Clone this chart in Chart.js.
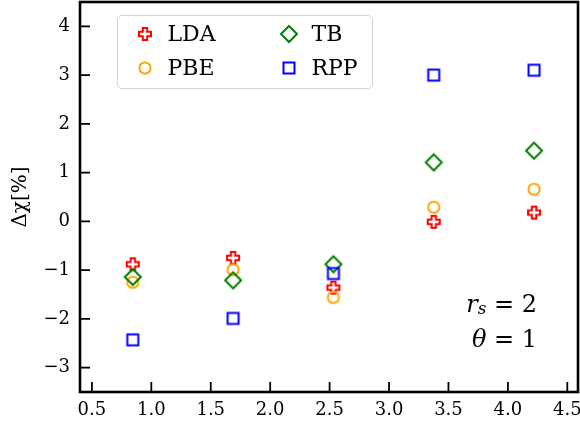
<!DOCTYPE html>
<html>
<head>
<meta charset="utf-8">
<script src="https://cdn.jsdelivr.net/npm/chart.js@4.4.1/dist/chart.umd.min.js"></script>
<style>
  html, body { margin: 0; padding: 0; background: #ffffff; }
  .scatter-chart { position: relative; width: 580px; height: 426px; }
  .scatter-chart canvas.plot { position: absolute; left: 0; top: 0; }
  .scatter-chart__legend {
    position: absolute; left: 117px; top: 15px; width: 256px; height: 74px;
    box-sizing: border-box; border: 1.5px solid #d4d4d4; border-radius: 5px;
    background: rgba(255, 255, 255, 0.8);
    display: grid; grid-template-columns: 144px auto; grid-template-rows: 34px 34px;
    grid-auto-flow: column; padding: 0.5px 0 0 14.5px;
    font-family: 'DejaVu Serif', serif; font-size: 22px; color: #000;
  }
  .scatter-chart__legend-item { display: flex; align-items: center; gap: 11px; line-height: 1; }
  .scatter-chart__note {
    position: absolute; right: 43px; font-family: 'DejaVu Serif', serif;
    font-size: 24px; line-height: 35px; color: #000; white-space: nowrap;
  }
  .scatter-chart__note i { font-style: italic; }
  .scatter-chart__note sub { font-size: 17px; font-style: italic; position: relative; top: 2px; vertical-align: baseline; }
</style>
</head>
<body>
<div class="scatter-chart">
  <canvas class="plot" width="580" height="426"></canvas>
  <div class="scatter-chart__legend"></div>
  <div class="scatter-chart__note" style="top: 287px"><i>r</i><sub>s</sub> = 2</div>
  <div class="scatter-chart__note" style="top: 322px"><i>θ</i> = 1</div>
</div>
<script>
const xValues = [0.844, 1.688, 2.532, 3.376, 4.22]
const ldaValues = [-0.88, -0.75, -1.36, -0.01, 0.18]
const pbeValues = [-1.25, -0.99, -1.56, 0.29, 0.66]
const tbValues = [-1.14, -1.21, -0.88, 1.21, 1.45]
const rppValues = [-2.43, -1.99, -1.07, 3.0, 3.1]
const xTicks = [0.5, 1.0, 1.5, 2.0, 2.5, 3.0, 3.5, 4.0, 4.5]
const yTicks = [-3, -2, -1, 0, 1, 2, 3, 4]

const series = [
  { label: 'LDA', data: ldaValues, marker: 'plus', color: '#ff0000' },
  { label: 'PBE', data: pbeValues, marker: 'circle', color: '#ffa500' },
  { label: 'TB', data: tbValues, marker: 'diamond', color: '#008000' },
  { label: 'RPP', data: rppValues, marker: 'square', color: '#0000ff' }
]

const serifFont = '\'DejaVu Serif\', serif'

function makeMarker(kind, color) {
  const c = document.createElement('canvas')
  c.width = 24
  c.height = 24
  const ctx = c.getContext('2d')
  ctx.translate(12, 12)
  ctx.strokeStyle = color
  ctx.lineWidth = 2
  ctx.lineJoin = 'miter'
  ctx.beginPath()
  if (kind === 'plus') {
    const s = 6
    const w = 2.2
    ctx.moveTo(-w, -s)
    ctx.lineTo(w, -s)
    ctx.lineTo(w, -w)
    ctx.lineTo(s, -w)
    ctx.lineTo(s, w)
    ctx.lineTo(w, w)
    ctx.lineTo(w, s)
    ctx.lineTo(-w, s)
    ctx.lineTo(-w, w)
    ctx.lineTo(-s, w)
    ctx.lineTo(-s, -w)
    ctx.lineTo(-w, -w)
  } else if (kind === 'circle') {
    ctx.arc(0, 0, 5.6, 0, Math.PI * 2)
  } else if (kind === 'diamond') {
    ctx.moveTo(0, -8)
    ctx.lineTo(8, 0)
    ctx.lineTo(0, 8)
    ctx.lineTo(-8, 0)
  } else {
    ctx.rect(-5.5, -5.5, 11, 11)
  }
  ctx.closePath()
  ctx.stroke()
  return c
}

const minusSign = v => String(v).replace('-', '\u2212')

// inward ticks and the full box around the plot, like the matplotlib original
const framePlugin = {
  id: 'frame',
  afterDatasetsDraw(chart) {
    const { ctx, chartArea: a, scales } = chart
    ctx.save()
    ctx.strokeStyle = '#000000'
    ctx.lineWidth = 1.8
    for (const t of scales.x.ticks) {
      const px = scales.x.getPixelForValue(t.value)
      ctx.beginPath()
      ctx.moveTo(px, a.bottom)
      ctx.lineTo(px, a.bottom - 10)
      ctx.stroke()
    }
    for (const t of scales.y.ticks) {
      const py = scales.y.getPixelForValue(t.value)
      ctx.beginPath()
      ctx.moveTo(a.left, py)
      ctx.lineTo(a.left + 10, py)
      ctx.stroke()
    }
    ctx.lineWidth = 2.6
    ctx.strokeRect(a.left, a.top, a.right - a.left, a.bottom - a.top)
    ctx.restore()
  }
}

const holder = document.querySelector('.scatter-chart')
const canvas = holder.querySelector('canvas.plot')

new Chart(canvas, {
  type: 'scatter',
  data: {
    datasets: series.map((s, i) => ({
      label: s.label,
      data: s.data.map((y, k) => ({ x: xValues[k], y })),
      pointStyle: makeMarker(s.marker, s.color),
      pointRadius: 8,
      order: series.length - i
    }))
  },
  options: {
    responsive: false,
    animation: false,
    layout: { autoPadding: false, padding: { top: 2, right: 2, left: 0, bottom: 0 } },
    plugins: {
      legend: { display: false },
      tooltip: { enabled: false }
    },
    scales: {
      x: {
        type: 'linear',
        min: 0.4,
        max: 4.59,
        afterBuildTicks: axis => { axis.ticks = xTicks.map(v => ({ value: v })) },
        afterFit: axis => {
          axis.height = 34
          axis.paddingLeft = 0
          axis.paddingRight = 0
        },
        grid: { display: false, drawTicks: false },
        border: { display: false },
        ticks: {
          color: '#000000',
          padding: 8,
          maxRotation: 0,
          autoSkip: false,
          font: { family: serifFont, size: 18 },
          callback: v => v.toFixed(1)
        }
      },
      y: {
        type: 'linear',
        min: -3.5,
        max: 4.5,
        afterBuildTicks: axis => { axis.ticks = yTicks.map(v => ({ value: v })) },
        afterFit: axis => {
          axis.width = 80
          axis.paddingTop = 0
          axis.paddingBottom = 0
        },
        grid: { display: false, drawTicks: false },
        border: { display: false },
        ticks: {
          color: '#000000',
          padding: 10,
          autoSkip: false,
          font: { family: serifFont, size: 18 },
          callback: v => minusSign(v)
        },
        title: {
          display: true,
          text: 'Δχ[%]',
          color: '#000000',
          padding: { top: 9, bottom: 0 },
          font: { family: serifFont, size: 20 }
        }
      }
    }
  },
  plugins: [framePlugin]
})

const legendElement = holder.querySelector('.scatter-chart__legend')
for (const s of series) {
  const item = document.createElement('div')
  item.className = 'scatter-chart__legend-item'
  item.append(makeMarker(s.marker, s.color))
  const text = document.createElement('span')
  text.textContent = s.label
  item.append(text)
  legendElement.append(item)
}
</script>
</body>
</html>
